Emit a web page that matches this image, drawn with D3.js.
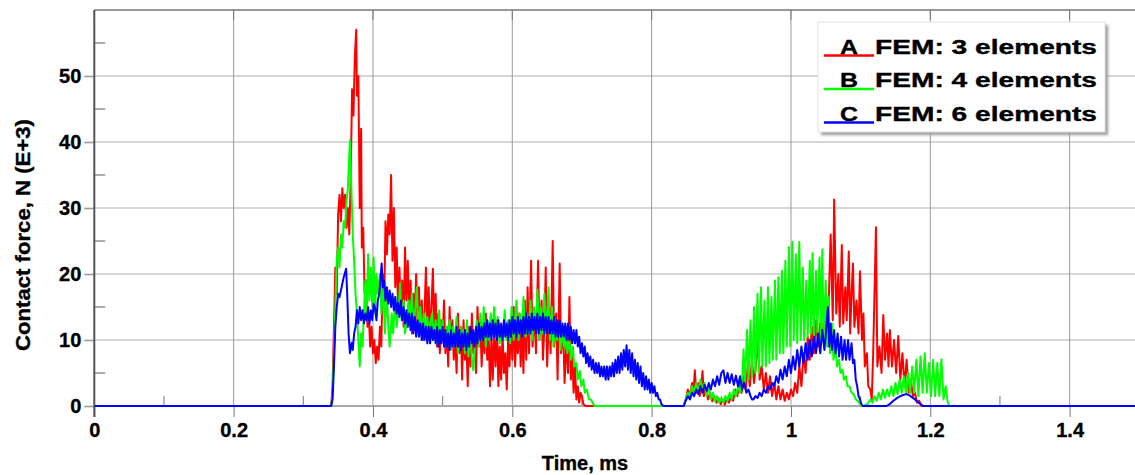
<!DOCTYPE html>
<html><head><meta charset="utf-8">
<script src="https://cdn.jsdelivr.net/npm/d3@7"></script>
<style>
html,body{margin:0;padding:0;background:#fff;}
svg{display:block;}
text{font-family:Arial,"Liberation Sans",sans-serif;font-weight:bold;fill:#000;stroke:#000;stroke-width:0.35px;}
</style></head>
<body>
<svg id="chart" width="1135" height="475"></svg>
<script>
// ---- data (time in ms, contact force in kN) ----
const xTickValues = [0, 0.2, 0.4, 0.6, 0.8, 1, 1.2, 1.4];
const xTickLabels = ["0", "0.2", "0.4", "0.6", "0.8", "1", "1.2", "1.4"];
const xMinorTicks = [0.1, 0.3, 0.5, 0.7, 0.9, 1.1, 1.3];
const yTickValues = [0, 10, 20, 30, 40, 50];
const yMinorTicks = [5, 15, 25, 35, 45, 55];
const seriesNames = ["A", "B", "C"];
const seriesLabels = ["FEM: 3 elements", "FEM: 4 elements", "FEM: 6 elements"];
const seriesColors = ["#ff0000", "#00ff00", "#0000ff"];

const seriesA = [
[0,0],[0.340,0],[0.342,3],[0.344,12],[0.346,21],[0.348,17],[0.350,29],[0.352,32],[0.354,28],[0.356,33],
[0.358,30],[0.360,32],[0.362,27],[0.364,30],[0.366,26],[0.368,34],[0.370,48],[0.372,44],[0.374,53],[0.376,57],
[0.377,47],[0.379,50],[0.381,30],[0.383,42],[0.384,24],[0.386,27],[0.388,17],[0.390,19],[0.392,12],[0.394,14],
[0.396,9],[0.398,12],[0.400,8],[0.402,10],[0.404,6.5],[0.406,9],[0.408,7],[0.410,12],[0.412,9],[0.414,20],
[0.416,15],[0.418,28],[0.420,23],[0.422,29],[0.424,26],[0.426,35],[0.428,22],[0.430,30],[0.432,18],[0.434,24],
[0.436,15],[0.438,21],[0.440,14],[0.442,19],[0.444,12],[0.446,24],[0.448,16],[0.450,22],[0.452,14],[0.454,19],
[0.456,11],[0.458,17],[0.460,13],[0.462,20],[0.464,12],[0.466,18],[0.468,11],[0.470,16],[0.472,10],[0.474,14],
[0.476,21],[0.478,12],[0.480,18],[0.482,10],[0.484,15],[0.486,20.8],[0.488,11],[0.490,17],[0.492,9],[0.494,14],
[0.496,8],[0.498,13],[0.500,10],[0.502,16],[0.504,8],[0.506,12],[0.508,6],[0.510,15],[0.512,9],[0.514,13],
[0.516,7],[0.518,11],[0.520,5],[0.522,14],[0.524,8],[0.526,12],[0.528,4],[0.530,13],[0.532,7],[0.534,10],
[0.536,3],[0.538,12],[0.540,6],[0.542,14],[0.544,8],[0.546,11],[0.548,5],[0.550,15],[0.552,9],[0.554,13],
[0.556,6],[0.558,12],[0.560,8],[0.562,14],[0.564,7],[0.566,11],[0.568,3],[0.570,10],[0.572,4],[0.574,12],
[0.576,6],[0.578,13],[0.580,3],[0.582,9],[0.584,4],[0.586,11],[0.588,5],[0.590,8],[0.592,2.5],[0.594,10],
[0.596,6],[0.598,13],[0.600,7],[0.602,15],[0.604,6],[0.606,11],[0.608,8],[0.610,14],[0.612,6],[0.614,12],
[0.616,5],[0.618,16],[0.620,7],[0.622,18],[0.624,8],[0.627,22],[0.629,9],[0.632,14],[0.634,8],[0.637,22],
[0.639,10],[0.642,16],[0.644,7],[0.646,12],[0.648,21],[0.650,6],[0.653,15],[0.655,8],[0.658,25],[0.660,9],
[0.663,14],[0.665,4],[0.668,21.6],[0.670,8],[0.673,12],[0.675,3.5],[0.678,10],[0.680,5],[0.682,16.5],[0.684,4],
[0.686,8],[0.688,2],[0.690,6],[0.692,1],[0.694,3],[0.696,0.5],[0.698,2],[0.700,1.5],[0.702,0.3],[0.705,0],
[0.846,0],[0.849,1],[0.852,2.5],[0.855,1.5],[0.858,3.5],[0.860,2],[0.862,5.4],[0.864,2],[0.867,3.5],[0.869,1.5],
[0.871,2.5],[0.873,5.3],[0.875,1.5],[0.878,2.5],[0.881,1],[0.884,2],[0.887,0.7],[0.890,1.5],[0.893,0.5],[0.896,1.2],
[0.899,0.3],[0.902,1],[0.905,0.2],[0.908,1.2],[0.911,0.5],[0.914,1.5],[0.917,0.8],[0.920,2.5],[0.923,1.5],[0.926,3.5],
[0.929,2],[0.932,4.5],[0.935,2.5],[0.938,6],[0.941,3],[0.944,7],[0.947,3.5],[0.950,6.5],[0.953,10.2],[0.955,4],
[0.958,6],[0.961,2.5],[0.964,5],[0.967,2],[0.970,4.5],[0.973,1.5],[0.976,3.5],[0.979,1],[0.982,3],[0.985,1],
[0.988,2.5],[0.991,0.8],[0.994,2],[0.997,1],[1.000,2.5],[1.003,1.5],[1.006,3.5],[1.009,2],[1.012,6],[1.015,3],
[1.018,8],[1.021,5],[1.024,10.5],[1.027,7],[1.030,12],[1.033,8],[1.036,13],[1.039,9],[1.042,12.5],[1.045,10],
[1.048,14.6],[1.051,11],[1.054,15],[1.057,26],[1.060,13],[1.062,31.3],[1.065,14],[1.068,20],[1.070,12],[1.073,24.4],
[1.075,12.5],[1.078,18],[1.080,13],[1.083,23.4],[1.085,11],[1.087,17],[1.089,21.6],[1.091,12],[1.094,16],[1.097,11],
[1.099,20.4],[1.102,10],[1.104,14],[1.106,6],[1.109,8],[1.111,3],[1.114,2.5],[1.116,1],[1.118,8],[1.122,27.1],
[1.124,6],[1.127,9],[1.130,5],[1.1325,13.8],[1.135,7],[1.138,11],[1.140,6],[1.142,11.5],[1.145,6],[1.148,10],
[1.151,5],[1.154,10.6],[1.157,4],[1.160,8],[1.163,3],[1.166,7],[1.169,2],[1.172,4],[1.175,1.5],[1.178,2],
[1.181,0.5],[1.184,0.8],[1.187,0],[1.5,0]
];

const seriesB = [
[0,0],[0.340,0],[0.342,2],[0.344,8],[0.346,15],[0.348,22],[0.350,24],[0.352,21],[0.354,26],[0.356,24],
[0.358,28],[0.360,27],[0.362,31],[0.364,33],[0.366,38],[0.367,40.3],[0.369,33],[0.371,26],[0.373,22],[0.375,17],
[0.377,14],[0.379,10],[0.381,6],[0.383,11],[0.385,9],[0.387,14],[0.389,19],[0.391,13],[0.393,23],[0.395,16],
[0.397,21],[0.399,15],[0.401,22.5],[0.403,14],[0.405,20],[0.407,17],[0.410,20],[0.412,14],[0.415,18],[0.417,11],
[0.420,17],[0.422,12],[0.424,9],[0.427,14],[0.429,11],[0.432,16.5],[0.434,12],[0.437,15],[0.439,18.6],[0.441,13],
[0.444,16],[0.446,11],[0.448,12.5],[0.451,16],[0.453,13],[0.456,17],[0.458,12],[0.461,15],[0.463,18],[0.465,12],
[0.468,15],[0.470,11],[0.473,14],[0.475,10.5],[0.478,13.5],[0.480,10],[0.482,12.5],[0.485,14],[0.487,10],[0.490,13],
[0.492,9.5],[0.495,14.5],[0.497,10],[0.500,13],[0.502,9],[0.505,12],[0.507,9.5],[0.510,13],[0.512,8.5],[0.515,12],
[0.517,9],[0.520,13.5],[0.522,8],[0.525,12],[0.527,9.5],[0.530,11.5],[0.532,8],[0.535,13],[0.537,7.5],[0.540,11],
[0.542,7],[0.544,5.4],[0.547,10],[0.549,13],[0.552,9],[0.554,14],[0.557,10],[0.559,15],[0.562,9],[0.564,13],
[0.567,10],[0.569,14],[0.572,11],[0.574,15],[0.577,10],[0.579,13.5],[0.582,9.5],[0.584,12],[0.587,10],[0.589,14.5],
[0.592,10],[0.594,13],[0.597,9.5],[0.599,15],[0.602,10],[0.604,13],[0.606,16],[0.609,10],[0.611,14],[0.614,11],
[0.616,16.5],[0.619,10.5],[0.621,14],[0.624,11],[0.626,16],[0.629,10],[0.631,15],[0.634,11],[0.636,17.6],[0.639,10],
[0.641,15],[0.644,11],[0.646,17],[0.649,11],[0.652,18],[0.654,10],[0.657,15],[0.659,9],[0.662,13],[0.664,10],
[0.667,12],[0.669,8.5],[0.672,11.5],[0.674,9],[0.677,12],[0.679,8],[0.682,10],[0.684,7],[0.687,9],[0.689,6],
[0.692,6.5],[0.694,4],[0.697,5.3],[0.699,3],[0.702,4],[0.704,2],[0.707,2.5],[0.710,1],[0.713,1],[0.716,0.3],
[0.719,0],
[0.846,0],[0.849,1],[0.852,2],[0.855,1.5],[0.858,3],[0.861,2],[0.864,3.5],[0.867,2],[0.870,4],[0.873,2.5],
[0.876,3.5],[0.879,1.5],[0.882,3],[0.885,1],[0.888,2],[0.891,0.7],[0.894,1.5],[0.897,0.5],[0.900,1.2],[0.903,0.5],
[0.906,1.5],[0.909,0.8],[0.912,2],[0.915,1],[0.918,2.5],[0.921,1.5],[0.924,3],[0.927,2],[0.930,4],[0.932,8.6],
[0.934,3.5],[0.937,11.5],[0.939,4],[0.942,13],[0.944,4.5],[0.947,15],[0.949,5],[0.952,17],[0.954,5],[0.957,18],
[0.959,6],[0.962,16],[0.964,6],[0.967,18],[0.969,6.5],[0.972,16.5],[0.974,7],[0.977,19],[0.979,7],[0.982,19.5],
[0.984,8],[0.987,20.5],[0.989,8],[0.992,22],[0.994,9],[0.997,24.1],[0.999,9],[1.002,24.9],[1.004,10],[1.007,23],
[1.009,9.5],[1.012,24.9],[1.014,10],[1.017,21],[1.019,10],[1.022,19],[1.024,10.5],[1.027,22],[1.029,11],[1.031,23.2],
[1.033,10.5],[1.036,20.5],[1.038,11],[1.041,22.5],[1.043,10],[1.045,23.7],[1.047,10],[1.050,19],[1.052,9],[1.054,16.6],
[1.056,8],[1.059,12.5],[1.061,7],[1.064,9],[1.066,6],[1.069,7],[1.071,5],[1.074,5.5],[1.076,4],[1.079,4.5],
[1.081,3],[1.084,3],[1.087,2],[1.090,1.8],[1.093,1],[1.096,0.8],[1.099,0.3],[1.102,0],
[1.104,0],[1.110,0.3],[1.114,1],[1.117,0.5],[1.120,1.5],[1.123,0.8],[1.126,2],[1.129,1],[1.132,2.5],[1.135,1.2],
[1.138,2.5],[1.141,1.5],[1.144,3],[1.147,1.5],[1.150,3.5],[1.153,1.8],[1.156,4],[1.159,2],[1.162,4.5],[1.165,2],
[1.168,5],[1.171,2],[1.174,6],[1.177,2],[1.180,7],[1.183,1.5],[1.186,7.5],[1.189,2],[1.192,8],[1.195,2],
[1.198,6.5],[1.201,1.5],[1.204,7],[1.207,1.5],[1.210,6.5],[1.213,1.5],[1.216,7.1],[1.219,1],[1.222,3],[1.225,0.5],
[1.228,0],[1.5,0]
];

const seriesC = [
[0,0],[0.340,0],[0.342,1],[0.344,6],[0.346,12],[0.348,15],[0.350,17],[0.352,16.5],[0.354,17.5],[0.356,18.5],
[0.358,19.5],[0.3615,20.8],[0.363,17],[0.365,11],[0.367,8],[0.3695,9.6],[0.371,8.5],[0.373,11],[0.375,12],[0.377,14.5],
[0.379,12.5],[0.381,15],[0.383,13],[0.385,14.5],[0.387,12.5],[0.389,14],[0.391,13],[0.393,15],[0.395,12.5],[0.397,14.5],
[0.399,13],[0.401,15.5],[0.403,14.8],[0.405,13],[0.407,16],[0.409,17],[0.411,19.5],[0.4125,21.6],[0.414,18],[0.416,19],
[0.418,16],[0.420,18],[0.422,15.5],[0.424,17.5],[0.426,15],[0.428,17],[0.430,14.5],[0.432,16.5],[0.434,14],[0.436,15.6],
[0.438,13.5],[0.440,16],[0.442,13],[0.444,15],[0.446,12.5],[0.448,14.5],[0.450,12],[0.452,14],[0.454,11.5],[0.456,14],
[0.458,11],[0.460,13.5],[0.462,10.5],[0.464,13],[0.466,10.5],[0.468,12.5],[0.470,10],[0.472,12.5],[0.474,10],[0.476,12],
[0.478,9.5],[0.480,12],[0.482,9.5],[0.484,12],[0.486,10],[0.488,11.5],[0.490,9.5],[0.492,12],[0.494,9],[0.496,11.5],
[0.498,9.5],[0.500,12],[0.502,9],[0.504,11.5],[0.506,9],[0.508,11],[0.510,8.5],[0.512,11.5],[0.514,9],[0.516,11],
[0.518,9],[0.520,12],[0.522,9],[0.524,11.5],[0.526,8.5],[0.528,11],[0.530,9],[0.532,11.5],[0.534,8.5],[0.536,11],
[0.538,9],[0.540,12],[0.542,9.5],[0.544,11.5],[0.546,9],[0.548,12],[0.550,9.5],[0.552,12.5],[0.554,10],[0.556,12],
[0.558,10],[0.560,12.5],[0.562,10.5],[0.564,13],[0.566,10.5],[0.568,12.5],[0.570,10],[0.572,13],[0.574,10.5],[0.576,12.5],
[0.578,10],[0.580,13],[0.582,10.5],[0.584,12.5],[0.586,10],[0.588,13],[0.590,10.5],[0.592,12.5],[0.594,10],[0.596,13],
[0.598,10.5],[0.600,13.5],[0.602,11],[0.604,13],[0.606,10.5],[0.608,13.5],[0.610,11],[0.612,13],[0.614,10.5],[0.616,13.5],
[0.618,11],[0.620,14],[0.622,11],[0.624,13.5],[0.626,11],[0.628,14],[0.630,11.5],[0.632,13.5],[0.634,11],[0.636,14],
[0.638,11],[0.640,13.5],[0.642,11.5],[0.644,14],[0.646,11],[0.648,13.5],[0.650,11],[0.652,13.5],[0.654,11],[0.656,13],
[0.658,11],[0.660,13.5],[0.662,10.5],[0.664,13],[0.666,10.5],[0.668,13],[0.670,10.5],[0.672,12.5],[0.674,10.5],[0.676,12.5],
[0.678,10],[0.680,12.5],[0.682,10],[0.684,12],[0.686,9.5],[0.688,11.5],[0.690,9.5],[0.692,11.5],[0.694,9],[0.696,10.5],
[0.698,8],[0.700,9.5],[0.702,7.5],[0.704,9],[0.706,6.5],[0.708,8],[0.710,6],[0.712,7.5],[0.714,5.5],[0.716,7],
[0.718,5],[0.720,6.5],[0.722,5],[0.724,6.5],[0.726,4.5],[0.728,6],[0.730,4.5],[0.732,6],[0.734,4],[0.736,6],
[0.738,4],[0.740,6],[0.742,4.5],[0.744,6.5],[0.746,4.5],[0.748,7],[0.750,5],[0.752,7.5],[0.754,5],[0.756,8],
[0.758,5.5],[0.760,8.5],[0.762,6],[0.764,9.2],[0.766,5.5],[0.768,8.5],[0.770,5],[0.772,8],[0.774,4.5],[0.776,7],
[0.778,4],[0.780,6.5],[0.782,3.5],[0.784,6],[0.786,3],[0.788,5],[0.790,2.5],[0.792,4.5],[0.794,2.5],[0.796,4],
[0.798,2],[0.800,3.5],[0.802,2],[0.804,3],[0.806,1.5],[0.808,2],[0.810,1],[0.812,1],[0.814,0.3],[0.817,0],
[0.846,0],[0.849,0.8],[0.852,1.5],[0.855,1],[0.858,2],[0.861,1.5],[0.864,2.5],[0.867,1.8],[0.870,3],[0.873,2],
[0.876,3.2],[0.879,2.3],[0.882,3.5],[0.885,2.5],[0.888,4],[0.891,3],[0.894,4.5],[0.897,3.2],[0.900,5],[0.903,5.4],
[0.906,3.5],[0.909,5],[0.912,3.5],[0.915,4.8],[0.918,3.2],[0.921,4.6],[0.924,3],[0.927,4.5],[0.930,2.5],[0.933,3.5],
[0.936,2],[0.939,2.5],[0.942,1.5],[0.944,1],[0.946,1],[0.949,1.5],[0.952,1.2],[0.955,2],[0.958,1.5],[0.961,2.5],
[0.964,2],[0.967,3],[0.970,2.5],[0.973,3.5],[0.976,3],[0.979,4.5],[0.982,3.5],[0.985,5.5],[0.988,4],[0.991,6],
[0.994,4.5],[0.997,7],[1.000,5],[1.003,7.5],[1.006,5.5],[1.009,8.5],[1.012,6],[1.015,9],[1.018,6.5],[1.021,9.5],
[1.024,7],[1.027,10],[1.030,7.5],[1.033,10.5],[1.036,8],[1.039,11],[1.042,8],[1.045,11.5],[1.048,8.5],[1.051,12],
[1.053,15],[1.055,9],[1.057,12.5],[1.059,8.5],[1.062,11.5],[1.064,8],[1.067,11],[1.069,7.5],[1.072,10.5],[1.074,7],
[1.077,10],[1.079,7],[1.082,10],[1.084,7],[1.087,9.5],[1.089,6.5],[1.091,7],[1.093,4],[1.095,3],[1.097,1.5],
[1.099,1],[1.101,0.3],[1.103,0],
[1.137,0],[1.142,0.3],[1.147,0.8],[1.152,1.2],[1.157,1.5],[1.162,1.7],[1.166,1.8],[1.170,1.6],[1.174,1.3],[1.178,1.0],
[1.182,0.6],[1.186,0.3],[1.190,0],[1.5,0]
];

// ---- layout ----
const W = 1135, H = 475;
const svg = d3.select("#chart");
const x = d3.scaleLinear().domain([0, 1.5]).range([94.3, 1139.3]);
const y = d3.scaleLinear().domain([0, 60]).range([406, 10]);
const x0 = x(0), yTop = y(60), yBase = y(0);

// horizontal grid lines
svg.append("g").selectAll("line").data(yTickValues.filter(v => v > 0)).join("line")
  .attr("x1", x0).attr("x2", W).attr("y1", d => y(d)).attr("y2", d => y(d))
  .attr("stroke", "#c8c8c8").attr("stroke-width", 1.6);
// vertical grid lines
svg.append("g").selectAll("line").data(xTickValues.filter(v => v > 0)).join("line")
  .attr("x1", d => x(d)).attr("x2", d => x(d)).attr("y1", yTop).attr("y2", yBase)
  .attr("stroke", "#9a9a9a").attr("stroke-width", 1);

// y minor ticks (inside)
svg.append("g").selectAll("line").data(yMinorTicks).join("line")
  .attr("x1", x0).attr("x2", x0 + 11).attr("y1", d => y(d)).attr("y2", d => y(d))
  .attr("stroke", "#9a9a9a").attr("stroke-width", 1.6);
// x minor ticks (inside)
svg.append("g").selectAll("line").data(xMinorTicks).join("line")
  .attr("x1", d => x(d)).attr("x2", d => x(d)).attr("y1", yBase).attr("y2", yBase - 10)
  .attr("stroke", "#777").attr("stroke-width", 1);
// top ticks
svg.append("g").selectAll("line").data(xTickValues).join("line")
  .attr("x1", d => x(d)).attr("x2", d => x(d)).attr("y1", yTop).attr("y2", yTop + 10)
  .attr("stroke", "#777").attr("stroke-width", 1);

// baseline axis line (gray)
svg.append("line").attr("x1", x0).attr("x2", W).attr("y1", yBase).attr("y2", yBase)
  .attr("stroke", "#a8a8a8").attr("stroke-width", 2);
// top border
svg.append("line").attr("x1", x0).attr("x2", W).attr("y1", yTop).attr("y2", yTop)
  .attr("stroke", "#777").attr("stroke-width", 1.5);

// axes via d3
const xAxis = d3.axisBottom(x).tickValues(xTickValues).tickSize(11).tickPadding(6)
  .tickFormat((d, i) => xTickLabels[i]);
const gx = svg.append("g").attr("transform", `translate(0,${yBase})`).call(xAxis);
gx.select(".domain").remove();
gx.selectAll(".tick line").attr("stroke", "#777").attr("stroke-width", 1);
gx.selectAll(".tick text").attr("font-size", 20).attr("font-weight", "bold")
  .attr("font-family", "Arial, 'Liberation Sans', sans-serif").attr("fill", "#000");

const yAxis = d3.axisLeft(y).tickValues(yTickValues).tickSize(10).tickPadding(3);
const gy = svg.append("g").attr("transform", `translate(${x0},0)`).call(yAxis);
gy.select(".domain").remove();
gy.selectAll(".tick line").attr("stroke", "#9a9a9a").attr("stroke-width", 1.6);
gy.selectAll(".tick text").attr("font-size", 20).attr("font-weight", "bold")
  .attr("font-family", "Arial, 'Liberation Sans', sans-serif").attr("fill", "#000");

// left axis line
svg.append("line").attr("x1", x0).attr("x2", x0).attr("y1", yTop).attr("y2", yBase + 11)
  .attr("stroke", "#555").attr("stroke-width", 2);

// clip
svg.append("clipPath").attr("id", "plotclip").append("rect")
  .attr("x", x0).attr("y", yTop).attr("width", W - x0).attr("height", yBase - yTop + 2);

const line = d3.line().x(d => x(d[0])).y(d => y(d[1]));
const plot = svg.append("g").attr("clip-path", "url(#plotclip)");
[seriesA, seriesB, seriesC].forEach((s, i) => {
  plot.append("path").datum(s).attr("d", line)
    .attr("fill", "none").attr("stroke", seriesColors[i]).attr("stroke-width", 2)
    .attr("stroke-linejoin", "round");
});

// axis titles
svg.append("text").attr("x", 585).attr("y", 470).attr("text-anchor", "middle")
  .attr("font-size", 20).text("Time, ms");
svg.append("text").attr("transform", "translate(30,235) rotate(-90)").attr("text-anchor", "middle")
  .attr("font-size", 21).attr("textLength", 232).attr("lengthAdjust", "spacingAndGlyphs")
  .text("Contact force, N (E+3)");

// legend
const defs = svg.append("defs");
const f = defs.append("filter").attr("id", "shadow").attr("x", "-10%").attr("y", "-10%").attr("width", "130%").attr("height", "130%");
f.append("feGaussianBlur").attr("stdDeviation", 1.5);
const lg = svg.append("g");
lg.append("rect").attr("x", 821).attr("y", 25).attr("width", 287).attr("height", 110)
  .attr("fill", "#9a9a9a").attr("filter", "url(#shadow)");
lg.append("rect").attr("x", 818).attr("y", 22).attr("width", 287).attr("height", 110)
  .attr("fill", "#fff").attr("stroke", "#e4e4e4").attr("stroke-width", 1);
const legendRows = [53.5, 87, 120.5];
seriesNames.forEach((n, i) => {
  const by = legendRows[i];
  lg.append("line").attr("x1", 824).attr("x2", 874).attr("y1", by + 2).attr("y2", by + 2)
    .attr("stroke", seriesColors[i]).attr("stroke-width", 2.5);
  lg.append("text").attr("x", 849).attr("y", by).attr("text-anchor", "middle")
    .attr("font-size", 20).attr("textLength", 18).attr("lengthAdjust", "spacingAndGlyphs").text(n);
  lg.append("text").attr("x", 875).attr("y", by).attr("font-size", 20)
    .attr("textLength", 222).attr("lengthAdjust", "spacingAndGlyphs").text(seriesLabels[i]);
});
</script>
</body></html>
